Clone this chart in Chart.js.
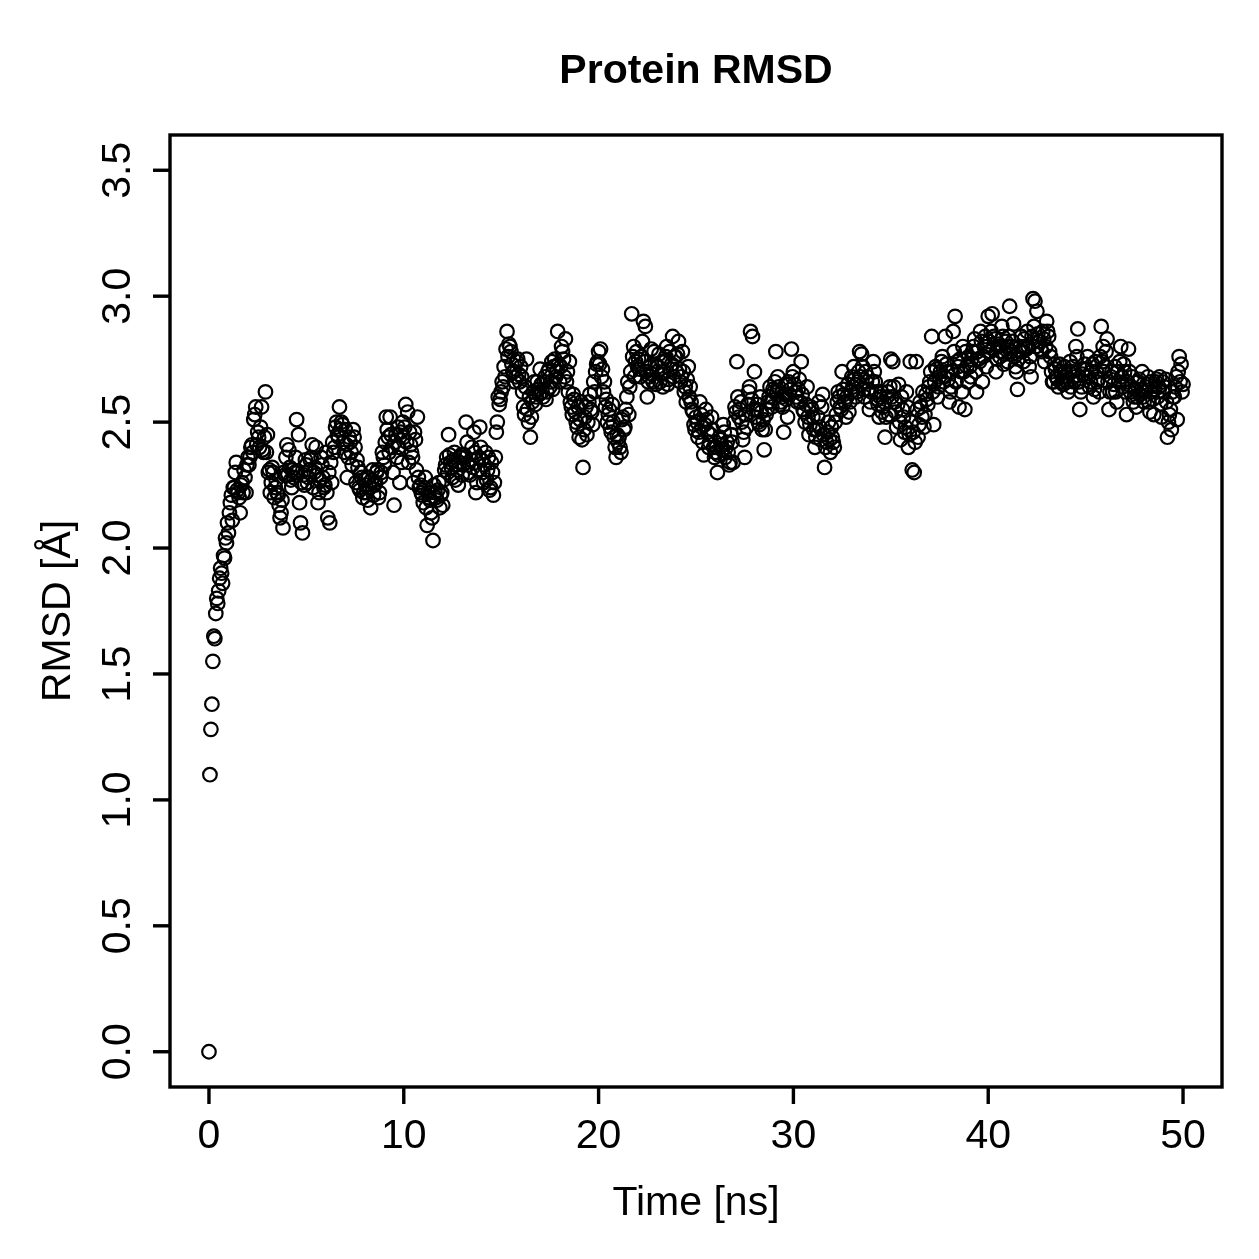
<!DOCTYPE html>
<html>
<head>
<meta charset="utf-8">
<title>Protein RMSD</title>
<script src="https://cdn.jsdelivr.net/npm/chart.js@4.4.1/dist/chart.umd.min.js"></script>
<style>
  html, body { margin: 0; padding: 0; background: #fff; }
  canvas { display: block; }
</style>
</head>
<body>
<canvas id="chart-rmsd" width="1259" height="1259"></canvas>
<script>
// Simulation time of each frame (ns), whole tenths
const timeNs = [
  0, 0.05, 0.1, 0.15, 0.2, 0.25, 0.3, 0.35, 0.4, 0.45, 0.5, 0.55, 0.6, 0.65, 0.7, 0.75, 0.8, 0.85, 0.9, 0.95, 1,
  1.1, 1.2, 1.3, 1.4, 1.5, 1.6, 1.7, 1.8, 1.9, 2,
  2.1, 2.2, 2.3, 2.4, 2.5, 2.6, 2.7, 2.8, 2.9, 3,
  3.1, 3.2, 3.3, 3.4, 3.5, 3.6, 3.7, 3.8, 3.9, 4,
  4.1, 4.2, 4.3, 4.4, 4.5, 4.6, 4.7, 4.8, 4.9, 5,
  5.1, 5.2, 5.3, 5.4, 5.5, 5.6, 5.7, 5.8, 5.9, 6,
  6.1, 6.2, 6.3, 6.4, 6.5, 6.6, 6.7, 6.8, 6.9, 7,
  7.1, 7.2, 7.3, 7.4, 7.5, 7.6, 7.7, 7.8, 7.9, 8,
  8.1, 8.2, 8.3, 8.4, 8.5, 8.6, 8.7, 8.8, 8.9, 9,
  9.1, 9.2, 9.3, 9.4, 9.5, 9.6, 9.7, 9.8, 9.9, 10,
  10.1, 10.2, 10.3, 10.4, 10.5, 10.6, 10.7, 10.8, 10.9, 11,
  11.1, 11.2, 11.3, 11.4, 11.5, 11.6, 11.7, 11.8, 11.9, 12,
  12.1, 12.2, 12.3, 12.4, 12.5, 12.6, 12.7, 12.8, 12.9, 13,
  13.1, 13.2, 13.3, 13.4, 13.5, 13.6, 13.7, 13.8, 13.9, 14,
  14.1, 14.2, 14.3, 14.4, 14.5, 14.6, 14.7, 14.8, 14.9, 15,
  15.1, 15.2, 15.3, 15.4, 15.5, 15.6, 15.7, 15.8, 15.9, 16,
  16.1, 16.2, 16.3, 16.4, 16.5, 16.6, 16.7, 16.8, 16.9, 17,
  17.1, 17.2, 17.3, 17.4, 17.5, 17.6, 17.7, 17.8, 17.9, 18,
  18.1, 18.2, 18.3, 18.4, 18.5, 18.6, 18.7, 18.8, 18.9, 19,
  19.1, 19.2, 19.3, 19.4, 19.5, 19.6, 19.7, 19.8, 19.9, 20,
  20.1, 20.2, 20.3, 20.4, 20.5, 20.6, 20.7, 20.8, 20.9, 21,
  21.1, 21.2, 21.3, 21.4, 21.5, 21.6, 21.7, 21.8, 21.9, 22,
  22.1, 22.2, 22.3, 22.4, 22.5, 22.6, 22.7, 22.8, 22.9, 23,
  23.1, 23.2, 23.3, 23.4, 23.5, 23.6, 23.7, 23.8, 23.9, 24,
  24.1, 24.2, 24.3, 24.4, 24.5, 24.6, 24.7, 24.8, 24.9, 25,
  25.1, 25.2, 25.3, 25.4, 25.5, 25.6, 25.7, 25.8, 25.9, 26,
  26.1, 26.2, 26.3, 26.4, 26.5, 26.6, 26.7, 26.8, 26.9, 27,
  27.1, 27.2, 27.3, 27.4, 27.5, 27.6, 27.7, 27.8, 27.9, 28,
  28.1, 28.2, 28.3, 28.4, 28.5, 28.6, 28.7, 28.8, 28.9, 29,
  29.1, 29.2, 29.3, 29.4, 29.5, 29.6, 29.7, 29.8, 29.9, 30,
  30.1, 30.2, 30.3, 30.4, 30.5, 30.6, 30.7, 30.8, 30.9, 31,
  31.1, 31.2, 31.3, 31.4, 31.5, 31.6, 31.7, 31.8, 31.9, 32,
  32.1, 32.2, 32.3, 32.4, 32.5, 32.6, 32.7, 32.8, 32.9, 33,
  33.1, 33.2, 33.3, 33.4, 33.5, 33.6, 33.7, 33.8, 33.9, 34,
  34.1, 34.2, 34.3, 34.4, 34.5, 34.6, 34.7, 34.8, 34.9, 35,
  35.1, 35.2, 35.3, 35.4, 35.5, 35.6, 35.7, 35.8, 35.9, 36,
  36.1, 36.2, 36.3, 36.4, 36.5, 36.6, 36.7, 36.8, 36.9, 37,
  37.1, 37.2, 37.3, 37.4, 37.5, 37.6, 37.7, 37.8, 37.9, 38,
  38.1, 38.2, 38.3, 38.4, 38.5, 38.6, 38.7, 38.8, 38.9, 39,
  39.1, 39.2, 39.3, 39.4, 39.5, 39.6, 39.7, 39.8, 39.9, 40,
  40.1, 40.2, 40.3, 40.4, 40.5, 40.6, 40.7, 40.8, 40.9, 41,
  41.1, 41.2, 41.3, 41.4, 41.5, 41.6, 41.7, 41.8, 41.9, 42,
  42.1, 42.2, 42.3, 42.4, 42.5, 42.6, 42.7, 42.8, 42.9, 43,
  43.1, 43.2, 43.3, 43.4, 43.5, 43.6, 43.7, 43.8, 43.9, 44,
  44.1, 44.2, 44.3, 44.4, 44.5, 44.6, 44.7, 44.8, 44.9, 45,
  45.1, 45.2, 45.3, 45.4, 45.5, 45.6, 45.7, 45.8, 45.9, 46,
  46.1, 46.2, 46.3, 46.4, 46.5, 46.6, 46.7, 46.8, 46.9, 47,
  47.1, 47.2, 47.3, 47.4, 47.5, 47.6, 47.7, 47.8, 47.9, 48,
  48.1, 48.2, 48.3, 48.4, 48.5, 48.6, 48.7, 48.8, 48.9, 49,
  49.1, 49.2, 49.3, 49.4, 49.5, 49.6, 49.7, 49.8, 49.9, 50
];

// Protein RMSD at those frames (Å)
const rmsd = [
  0.00, 1.10, 1.28, 1.38, 1.55, 1.65, 1.64, 1.74, 1.80, 1.78, 1.83, 1.88, 1.92, 1.90, 1.86, 1.97, 1.96, 2.04, 2.02, 2.10, 2.06,
  2.18, 2.11, 2.24, 2.34, 2.22, 2.14, 2.26, 2.31, 2.22, 2.36,
  2.36, 2.41, 2.51, 2.56, 2.46, 2.40, 2.56, 2.38, 2.62, 2.45,
  2.31, 2.26, 2.30, 2.24, 2.22, 2.17, 2.14, 2.08, 2.29, 2.41,
  2.39, 2.27, 2.31, 2.30, 2.51, 2.45, 2.10, 2.06, 2.25, 2.33,
  2.28, 2.35, 2.41, 2.30, 2.40, 2.18, 2.27, 2.33, 2.24, 2.38,
  2.12, 2.10, 2.26, 2.38, 2.48, 2.45, 2.56, 2.50, 2.42, 2.47,
  2.28, 2.44, 2.38, 2.47, 2.40, 2.35, 2.24, 2.30, 2.20, 2.27,
  2.22, 2.28, 2.16, 2.31, 2.25, 2.30, 2.20, 2.28, 2.38, 2.33,
  2.52, 2.44, 2.52, 2.40, 2.17, 2.45, 2.48, 2.26, 2.34, 2.44,
  2.57, 2.54, 2.46, 2.38, 2.26, 2.43, 2.52, 2.24, 2.22, 2.18,
  2.28, 2.09, 2.20, 2.14, 2.03, 2.22, 2.19, 2.26, 2.21, 2.17,
  2.31, 2.36, 2.45, 2.34, 2.28, 2.38, 2.33, 2.25, 2.36, 2.29,
  2.37, 2.50, 2.33, 2.29, 2.40, 2.46, 2.22, 2.31, 2.48, 2.35,
  2.26, 2.38, 2.31, 2.23, 2.34, 2.21, 2.36, 2.50, 2.57, 2.62,
  2.64, 2.68, 2.86, 2.81, 2.78, 2.70, 2.66, 2.74, 2.69, 2.72,
  2.62, 2.53, 2.75, 2.50, 2.44, 2.58, 2.66, 2.60, 2.63, 2.71,
  2.62, 2.66, 2.59, 2.70, 2.64, 2.74, 2.72, 2.68, 2.86, 2.66,
  2.80, 2.75, 2.83, 2.70, 2.74, 2.56, 2.61, 2.54, 2.48, 2.44,
  2.58, 2.32, 2.52, 2.45, 2.58, 2.55, 2.49, 2.62, 2.73, 2.78,
  2.79, 2.71, 2.66, 2.59, 2.53, 2.48, 2.57, 2.44, 2.36, 2.42,
  2.40, 2.51, 2.47, 2.55, 2.66, 2.64, 2.93, 2.80, 2.74, 2.72,
  2.71, 2.76, 2.90, 2.88, 2.60, 2.68, 2.79, 2.66, 2.73, 2.70,
  2.77, 2.69, 2.64, 2.74, 2.80, 2.67, 2.71, 2.84, 2.76, 2.70,
  2.82, 2.66, 2.78, 2.62, 2.58, 2.72, 2.64, 2.55, 2.49, 2.52,
  2.44, 2.58, 2.48, 2.37, 2.55, 2.46, 2.42, 2.52, 2.40, 2.38,
  2.30, 2.44, 2.41, 2.49, 2.36, 2.42, 2.33, 2.45, 2.34, 2.56,
  2.74, 2.52, 2.58, 2.43, 2.36, 2.48, 2.62, 2.86, 2.84, 2.70,
  2.55, 2.50, 2.60, 2.47, 2.39, 2.53, 2.58, 2.64, 2.56, 2.62,
  2.78, 2.68, 2.57, 2.60, 2.46, 2.65, 2.52, 2.61, 2.79, 2.70,
  2.62, 2.58, 2.67, 2.74, 2.55, 2.50, 2.64, 2.45, 2.56, 2.52,
  2.40, 2.47, 2.58, 2.43, 2.61, 2.32, 2.42, 2.50, 2.38, 2.44,
  2.40, 2.53, 2.62, 2.56, 2.70, 2.61, 2.52, 2.65, 2.58, 2.68,
  2.72, 2.60, 2.66, 2.78, 2.77, 2.63, 2.70, 2.68, 2.55, 2.62,
  2.74, 2.66, 2.59, 2.52, 2.62, 2.56, 2.44, 2.60, 2.53, 2.75,
  2.74, 2.58, 2.48, 2.65, 2.43, 2.55, 2.46, 2.62, 2.40, 2.74,
  2.31, 2.30, 2.74, 2.44, 2.58, 2.52, 2.48, 2.61, 2.57, 2.66,
  2.84, 2.49, 2.72, 2.60, 2.68, 2.74, 2.66, 2.84, 2.70, 2.58,
  2.64, 2.86, 2.92, 2.74, 2.56, 2.70, 2.80, 2.55, 2.72, 2.76,
  2.68, 2.78, 2.83, 2.62, 2.75, 2.86, 2.66, 2.80, 2.72, 2.92,
  2.78, 2.93, 2.84, 2.70, 2.80, 2.76, 2.88, 2.73, 2.82, 2.74,
  2.96, 2.80, 2.89, 2.72, 2.63, 2.78, 2.84, 2.74, 2.80, 2.86,
  2.72, 2.68, 2.99, 2.98, 2.94, 2.82, 2.79, 2.86, 2.74, 2.90,
  2.84, 2.76, 2.66, 2.73, 2.68, 2.64, 2.70, 2.66, 2.72, 2.68,
  2.62, 2.74, 2.70, 2.66, 2.80, 2.87, 2.55, 2.64, 2.71, 2.68,
  2.76, 2.64, 2.70, 2.60, 2.74, 2.66, 2.62, 2.88, 2.80, 2.72,
  2.83, 2.55, 2.68, 2.62, 2.72, 2.58, 2.66, 2.80, 2.64, 2.70,
  2.53, 2.79, 2.62, 2.68, 2.60, 2.56, 2.66, 2.61, 2.70, 2.58,
  2.64, 2.68, 2.54, 2.62, 2.53, 2.66, 2.60, 2.68, 2.52, 2.62,
  2.67, 2.44, 2.53, 2.47, 2.60, 2.64, 2.51, 2.76, 2.73, 2.65
];

// Frames between the tenths (ns)
const timeHalf = [
  1.05, 1.15, 1.25, 1.35, 1.45, 1.55, 1.65, 1.75, 1.85, 1.95,
  2.05, 2.15, 2.25, 2.35, 2.45, 2.55, 2.65, 2.75, 2.85, 2.95,
  3.05, 3.15, 3.25, 3.35, 3.45, 3.55, 3.65, 3.75, 3.85, 3.95,
  4.05, 4.15, 4.25, 4.35, 4.45, 4.55, 4.65, 4.75, 4.85, 4.95,
  5.05, 5.15, 5.25, 5.35, 5.45, 5.55, 5.65, 5.75, 5.85, 5.95,
  6.05, 6.15, 6.25, 6.35, 6.45, 6.55, 6.65, 6.75, 6.85, 6.95,
  7.05, 7.15, 7.25, 7.35, 7.45, 7.55, 7.65, 7.75, 7.85, 7.95,
  8.05, 8.15, 8.25, 8.35, 8.45, 8.55, 8.65, 8.75, 8.85, 8.95,
  9.05, 9.15, 9.25, 9.35, 9.45, 9.55, 9.65, 9.75, 9.85, 9.95,
  10.05, 10.15, 10.25, 10.35, 10.45, 10.55, 10.65, 10.75, 10.85, 10.95,
  11.05, 11.15, 11.25, 11.35, 11.45, 11.55, 11.65, 11.75, 11.85, 11.95,
  12.05, 12.15, 12.25, 12.35, 12.45, 12.55, 12.65, 12.75, 12.85, 12.95,
  13.05, 13.15, 13.25, 13.35, 13.45, 13.55, 13.65, 13.75, 13.85, 13.95,
  14.05, 14.15, 14.25, 14.35, 14.45, 14.55, 14.65, 14.75, 14.85, 14.95,
  15.05, 15.15, 15.25, 15.35, 15.45, 15.55, 15.65, 15.75, 15.85, 15.95,
  16.05, 16.15, 16.25, 16.35, 16.45, 16.55, 16.65, 16.75, 16.85, 16.95,
  17.05, 17.15, 17.25, 17.35, 17.45, 17.55, 17.65, 17.75, 17.85, 17.95,
  18.05, 18.15, 18.25, 18.35, 18.45, 18.55, 18.65, 18.75, 18.85, 18.95,
  19.05, 19.15, 19.25, 19.35, 19.45, 19.55, 19.65, 19.75, 19.85, 19.95,
  20.05, 20.15, 20.25, 20.35, 20.45, 20.55, 20.65, 20.75, 20.85, 20.95,
  21.05, 21.15, 21.25, 21.35, 21.45, 21.55, 21.65, 21.75, 21.85, 21.95,
  22.05, 22.15, 22.25, 22.35, 22.45, 22.55, 22.65, 22.75, 22.85, 22.95,
  23.05, 23.15, 23.25, 23.35, 23.45, 23.55, 23.65, 23.75, 23.85, 23.95,
  24.05, 24.15, 24.25, 24.35, 24.45, 24.55, 24.65, 24.75, 24.85, 24.95,
  25.05, 25.15, 25.25, 25.35, 25.45, 25.55, 25.65, 25.75, 25.85, 25.95,
  26.05, 26.15, 26.25, 26.35, 26.45, 26.55, 26.65, 26.75, 26.85, 26.95,
  27.05, 27.15, 27.25, 27.35, 27.45, 27.55, 27.65, 27.75, 27.85, 27.95,
  28.05, 28.15, 28.25, 28.35, 28.45, 28.55, 28.65, 28.75, 28.85, 28.95,
  29.05, 29.15, 29.25, 29.35, 29.45, 29.55, 29.65, 29.75, 29.85, 29.95,
  30.05, 30.15, 30.25, 30.35, 30.45, 30.55, 30.65, 30.75, 30.85, 30.95,
  31.05, 31.15, 31.25, 31.35, 31.45, 31.55, 31.65, 31.75, 31.85, 31.95,
  32.05, 32.15, 32.25, 32.35, 32.45, 32.55, 32.65, 32.75, 32.85, 32.95,
  33.05, 33.15, 33.25, 33.35, 33.45, 33.55, 33.65, 33.75, 33.85, 33.95,
  34.05, 34.15, 34.25, 34.35, 34.45, 34.55, 34.65, 34.75, 34.85, 34.95,
  35.05, 35.15, 35.25, 35.35, 35.45, 35.55, 35.65, 35.75, 35.85, 35.95,
  36.05, 36.15, 36.25, 36.35, 36.45, 36.55, 36.65, 36.75, 36.85, 36.95,
  37.05, 37.15, 37.25, 37.35, 37.45, 37.55, 37.65, 37.75, 37.85, 37.95,
  38.05, 38.15, 38.25, 38.35, 38.45, 38.55, 38.65, 38.75, 38.85, 38.95,
  39.05, 39.15, 39.25, 39.35, 39.45, 39.55, 39.65, 39.75, 39.85, 39.95,
  40.05, 40.15, 40.25, 40.35, 40.45, 40.55, 40.65, 40.75, 40.85, 40.95,
  41.05, 41.15, 41.25, 41.35, 41.45, 41.55, 41.65, 41.75, 41.85, 41.95,
  42.05, 42.15, 42.25, 42.35, 42.45, 42.55, 42.65, 42.75, 42.85, 42.95,
  43.05, 43.15, 43.25, 43.35, 43.45, 43.55, 43.65, 43.75, 43.85, 43.95,
  44.05, 44.15, 44.25, 44.35, 44.45, 44.55, 44.65, 44.75, 44.85, 44.95,
  45.05, 45.15, 45.25, 45.35, 45.45, 45.55, 45.65, 45.75, 45.85, 45.95,
  46.05, 46.15, 46.25, 46.35, 46.45, 46.55, 46.65, 46.75, 46.85, 46.95,
  47.05, 47.15, 47.25, 47.35, 47.45, 47.55, 47.65, 47.75, 47.85, 47.95,
  48.05, 48.15, 48.25, 48.35, 48.45, 48.55, 48.65, 48.75, 48.85, 48.95,
  49.05, 49.15, 49.25, 49.35, 49.45, 49.55, 49.65, 49.75, 49.85, 49.95
];

const rmsdHalf = [
  2.14, 2.21, 2.24, 2.30, 2.23, 2.20, 2.25, 2.22, 2.28, 2.33,
  2.33, 2.40, 2.38, 2.53, 2.41, 2.44, 2.48, 2.39, 2.44, 2.38,
  2.30, 2.22, 2.32, 2.20, 2.27, 2.21, 2.12, 2.19, 2.30, 2.36,
  2.29, 2.32, 2.24, 2.28, 2.36, 2.30, 2.18, 2.26, 2.29, 2.35,
  2.26, 2.31, 2.36, 2.24, 2.32, 2.29, 2.22, 2.36, 2.28, 2.25,
  2.22, 2.30, 2.34, 2.42, 2.40, 2.50, 2.44, 2.47, 2.49, 2.38,
  2.41, 2.36, 2.42, 2.33, 2.44, 2.26, 2.32, 2.23, 2.28, 2.22,
  2.25, 2.19, 2.24, 2.27, 2.21, 2.26, 2.31, 2.22, 2.30, 2.36,
  2.42, 2.47, 2.38, 2.45, 2.30, 2.42, 2.36, 2.40, 2.46, 2.50,
  2.48, 2.42, 2.34, 2.41, 2.36, 2.46, 2.31, 2.28, 2.25, 2.21,
  2.24, 2.16, 2.22, 2.19, 2.12, 2.25, 2.20, 2.23, 2.16, 2.22,
  2.27, 2.33, 2.30, 2.37, 2.32, 2.35, 2.27, 2.31, 2.34, 2.37,
  2.33, 2.36, 2.42, 2.30, 2.35, 2.32, 2.38, 2.26, 2.36, 2.40,
  2.30, 2.33, 2.27, 2.36, 2.24, 2.30, 2.26, 2.46, 2.60, 2.59,
  2.66, 2.72, 2.79, 2.76, 2.80, 2.73, 2.70, 2.68, 2.75, 2.66,
  2.68, 2.56, 2.64, 2.55, 2.60, 2.52, 2.62, 2.57, 2.66, 2.61,
  2.65, 2.60, 2.68, 2.62, 2.71, 2.66, 2.63, 2.75, 2.70, 2.73,
  2.72, 2.78, 2.68, 2.66, 2.62, 2.58, 2.53, 2.59, 2.50, 2.56,
  2.51, 2.43, 2.47, 2.56, 2.50, 2.61, 2.54, 2.66, 2.70, 2.74,
  2.73, 2.68, 2.62, 2.56, 2.50, 2.55, 2.46, 2.50, 2.40, 2.45,
  2.44, 2.38, 2.52, 2.48, 2.60, 2.53, 2.70, 2.76, 2.68, 2.78,
  2.75, 2.68, 2.82, 2.74, 2.70, 2.66, 2.72, 2.69, 2.78, 2.65,
  2.72, 2.66, 2.74, 2.70, 2.76, 2.65, 2.78, 2.73, 2.68, 2.76,
  2.77, 2.71, 2.68, 2.70, 2.64, 2.67, 2.60, 2.58, 2.54, 2.47,
  2.50, 2.46, 2.53, 2.42, 2.49, 2.51, 2.40, 2.45, 2.47, 2.36,
  2.40, 2.37, 2.43, 2.39, 2.46, 2.40, 2.38, 2.34, 2.42, 2.50,
  2.54, 2.60, 2.55, 2.50, 2.46, 2.53, 2.57, 2.64, 2.59, 2.55,
  2.52, 2.57, 2.49, 2.54, 2.51, 2.47, 2.55, 2.60, 2.58, 2.63,
  2.66, 2.62, 2.64, 2.58, 2.56, 2.61, 2.59, 2.66, 2.63, 2.68,
  2.65, 2.60, 2.63, 2.58, 2.61, 2.54, 2.57, 2.52, 2.49, 2.55,
  2.47, 2.44, 2.52, 2.48, 2.56, 2.45, 2.40, 2.46, 2.43, 2.48,
  2.42, 2.50, 2.58, 2.60, 2.55, 2.63, 2.58, 2.60, 2.54, 2.62,
  2.64, 2.67, 2.62, 2.70, 2.68, 2.72, 2.60, 2.66, 2.63, 2.58,
  2.66, 2.70, 2.62, 2.57, 2.60, 2.54, 2.58, 2.52, 2.62, 2.64,
  2.60, 2.64, 2.54, 2.57, 2.50, 2.60, 2.52, 2.48, 2.56, 2.45,
  2.50, 2.46, 2.42, 2.55, 2.49, 2.56, 2.62, 2.53, 2.59, 2.64,
  2.70, 2.62, 2.66, 2.71, 2.64, 2.70, 2.76, 2.68, 2.73, 2.67,
  2.62, 2.70, 2.78, 2.66, 2.72, 2.75, 2.62, 2.70, 2.78, 2.66,
  2.72, 2.75, 2.80, 2.70, 2.78, 2.74, 2.82, 2.76, 2.84, 2.80,
  2.82, 2.86, 2.79, 2.83, 2.75, 2.81, 2.78, 2.84, 2.77, 2.80,
  2.84, 2.78, 2.82, 2.76, 2.70, 2.75, 2.80, 2.78, 2.83, 2.79,
  2.80, 2.76, 2.84, 2.88, 2.80, 2.85, 2.82, 2.78, 2.83, 2.80,
  2.86, 2.78, 2.70, 2.66, 2.71, 2.67, 2.73, 2.69, 2.65, 2.70,
  2.66, 2.70, 2.64, 2.72, 2.68, 2.76, 2.66, 2.62, 2.69, 2.73,
  2.71, 2.68, 2.66, 2.73, 2.63, 2.70, 2.67, 2.76, 2.74, 2.70,
  2.78, 2.66, 2.62, 2.70, 2.65, 2.62, 2.70, 2.74, 2.68, 2.73,
  2.62, 2.66, 2.70, 2.64, 2.58, 2.63, 2.60, 2.67, 2.63, 2.60,
  2.62, 2.65, 2.58, 2.66, 2.59, 2.63, 2.67, 2.64, 2.57, 2.66,
  2.64, 2.58, 2.50, 2.55, 2.62, 2.60, 2.68, 2.70, 2.66, 2.62
];

const xTicks = [0, 10, 20, 30, 40, 50];
const yTicks = [0, 0.5, 1, 1.5, 2, 2.5, 3, 3.5];
const yTickLabels = ["0.0", "0.5", "1.0", "1.5", "2.0", "2.5", "3.0", "3.5"];
const chartTitle = "Protein RMSD";
const xTitle = "Time [ns]";
const yTitle = "RMSD [Å]";

const FONT = '"Liberation Sans", Arimo, Helvetica, Arial, sans-serif';

// R-style frame: box, outward ticks, rotated y labels, titles
const baseGraphics = {
  id: "baseGraphics",
  afterDraw(chart) {
    const { ctx, chartArea: a, scales: { x, y } } = chart;
    const tick = 17;
    ctx.save();
    ctx.strokeStyle = "#000";
    ctx.fillStyle = "#000";
    ctx.lineWidth = 3.4;
    ctx.lineCap = "butt";
    ctx.strokeRect(a.left, a.top, a.right - a.left, a.bottom - a.top);

    ctx.font = `41px ${FONT}`;
    ctx.textAlign = "center";
    ctx.textBaseline = "alphabetic";
    xTicks.forEach(v => {
      const px = x.getPixelForValue(v);
      ctx.beginPath();
      ctx.moveTo(px, a.bottom);
      ctx.lineTo(px, a.bottom + tick);
      ctx.stroke();
      ctx.fillText(String(v), px, a.bottom + 61);
    });

    yTicks.forEach((v, i) => {
      const py = y.getPixelForValue(v);
      ctx.beginPath();
      ctx.moveTo(a.left, py);
      ctx.lineTo(a.left - tick, py);
      ctx.stroke();
      ctx.save();
      ctx.translate(a.left - 40, py);
      ctx.rotate(-Math.PI / 2);
      ctx.fillText(yTickLabels[i], 0, 0);
      ctx.restore();
    });

    const cx = (a.left + a.right) / 2;
    const cy = (a.top + a.bottom) / 2;
    ctx.fillText(xTitle, cx, a.bottom + 128);
    ctx.save();
    ctx.translate(a.left - 100, cy);
    ctx.rotate(-Math.PI / 2);
    ctx.fillText(yTitle, 0, 0);
    ctx.restore();

    ctx.font = `bold 41px ${FONT}`;
    ctx.fillText(chartTitle, cx, a.top - 52);
    ctx.restore();
  }
};

const points = timeNs.map((t, i) => ({ x: t, y: rmsd[i] }))
  .concat(timeHalf.map((t, i) => ({ x: t, y: rmsdHalf[i] })));

new Chart(document.getElementById("chart-rmsd"), {
  type: "scatter",
  data: {
    datasets: [{
      label: "RMSD",
      data: points,
      pointStyle: "circle",
      pointRadius: 6.8,
      pointBorderWidth: 2.2,
      borderWidth: 2.2,
      borderColor: "#000",
      backgroundColor: "rgba(0,0,0,0)",
      showLine: false,
    }],
  },
  options: {
    responsive: false,
    animation: false,
    devicePixelRatio: 1,
    layout: { padding: { left: 170, right: 37, top: 135, bottom: 172 } },
    plugins: {
      legend: { display: false },
      tooltip: { enabled: false },
      title: { display: false },
    },
    scales: {
      x: { type: "linear", min: -2, max: 52, display: false },
      y: { type: "linear", min: -0.14, max: 3.64, display: false },
    },
  },
  plugins: [baseGraphics],
});
</script>
</body>
</html>
